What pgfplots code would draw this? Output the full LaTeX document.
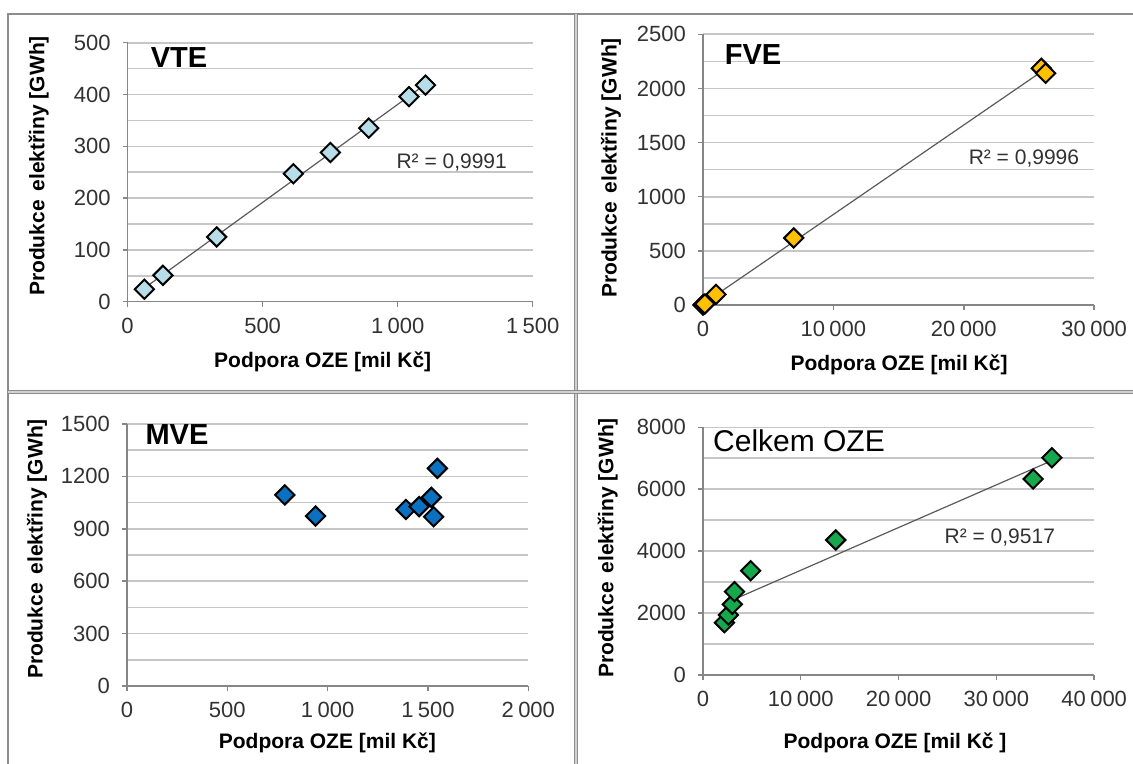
\documentclass[border=0pt]{standalone}
\usepackage{pgfplots}
\pgfplotsset{compat=1.18}
\usepackage{fontspec}
\setmainfont{Liberation Sans}
\definecolor{vte}{RGB}{183,222,232}
\definecolor{fve}{RGB}{255,192,0}
\definecolor{mve}{RGB}{10,112,192}
\definecolor{celk}{RGB}{22,168,76}
\definecolor{gridc}{RGB}{198,198,198}
\definecolor{axc}{RGB}{134,134,134}
\definecolor{framec}{RGB}{140,140,140}
\definecolor{trend}{RGB}{90,90,90}
\definecolor{txt}{RGB}{50,50,50}
\pgfplotsset{
  panel/.style={
    scale only axis, anchor=south west, axis lines=left,
    axis line style={-, draw=axc, line width=0.75pt},
    tick align=outside, major tick length=2.5pt, minor tick length=0pt,
    tick style={draw=axc, line width=0.75pt},
    ymajorgrids, yminorgrids,
    major grid style={draw=gridc, line width=0.8pt},
    minor grid style={draw=gridc, line width=0.8pt},
    xmin=0, ymin=0, clip=false, scaled ticks=false,
    tick label style={font=\fontsize{11}{13}\selectfont, text=txt},
    /pgf/number format/assume math mode=true,
    xticklabel style={/pgf/number format/1000 sep={\kern0.2em}, yshift=-2pt},
    yticklabel style={/pgf/number format/1000 sep={}, xshift=-2.5pt},
  },
  pts/.style={only marks, mark=square*, mark size=3.4pt,
    mark options={rotate=45, draw=black, line width=1pt, fill=#1}},
  trendl/.style={draw=trend, line width=0.6pt, no marks},
}
\newcommand{\lab}{\fontsize{10.5}{12}\selectfont\bfseries}
\newcommand{\ttl}{\fontsize{14.5}{16}\selectfont\bfseries}
\newcommand{\rr}{\fontsize{10.5}{12}\selectfont\color{txt}}
\begin{document}
\begin{tikzpicture}
\useasboundingbox (0pt,0pt) rectangle (566.5pt,-382pt);

% VTE
\begin{axis}[panel, at={(63.8pt,-150.85pt)}, width=202.55pt, height=129.5pt,
  xmax=1500, ymax=500, xtick={0,500,1000,1500},
  ytick={0,100,...,500}, minor ytick={50,150,...,450}]
\addplot[pts=vte] coordinates {(62,24) (131,51) (330,125) (614,247) (751,288) (893,335) (1042,396) (1103,418)};
\addplot[trendl] coordinates {(62,26.1) (1103,419.8)};
\end{axis}

% FVE
\begin{axis}[panel, at={(351.45pt,-152.5pt)}, width=195.65pt, height=135.35pt,
  xmax=30000, ymax=2500, xtick={0,10000,20000,30000},
  ytick={0,500,...,2500}, minor ytick={250,750,...,2250}]
\addplot[trendl] coordinates {(0,9.4) (26275,2181)};
\addplot[pts=fve] coordinates {(0,0) (50,3) (150,10) (1000,98) (6963,619) (25945,2186) (26275,2140)};
\end{axis}

% MVE
\begin{axis}[panel, at={(63.45pt,-343pt)}, width=200.7pt, height=131pt,
  xmax=2000, ymax=1500, xtick={0,500,1000,1500,2000},
  ytick={0,300,...,1500}, minor ytick={150,450,...,1350}]
\addplot[pts=mve] coordinates {(787,1094) (940,973) (1390,1011) (1456,1027) (1517,1080) (1528,969) (1547,1246)};
\end{axis}

% Celkem OZE
\begin{axis}[panel, at={(351.45pt,-337.5pt)}, width=195.65pt, height=123.85pt,
  xmax=40000, ymax=8000, xtick={0,10000,20000,30000,40000},
  ytick={0,2000,...,8000}, minor ytick={1000,3000,5000,7000}]
\addplot[trendl] coordinates {(2202,2307) (35670,6924)};
\addplot[pts=celk] coordinates {(2202,1690) (2606,1938) (3009,2282) (3229,2691) (4881,3369) (13578,4360) (33761,6330) (35670,7018)};
\end{axis}

\begin{scope}[x=0.5pt,y=-0.5pt]
% frames
\draw[framec, line width=0.8pt] (8,764) -- (8,14) -- (1133,14);
\draw[framec, line width=0.6pt, double=framec!40, double distance=0.6pt] (576,14) -- (576,764);
\draw[framec, line width=0.6pt, double=framec!40, double distance=0.6pt] (8,392) -- (1133,392);
% axis labels
\node[inner sep=0] at (322.7,361.7) {\lab Podpora OZE [mil Kč]};
\node[inner sep=0, rotate=90] at (38.8,166) {\lab Produkce\hspace{0.15em} elektřiny [GWh]};
\node[inner sep=0] at (899,365) {\lab Podpora OZE [mil Kč]};
\node[inner sep=0, rotate=90] at (611,168) {\lab Produkce\hspace{0.15em} elektřiny [GWh]};
\node[inner sep=0] at (327.4,743) {\lab Podpora OZE [mil Kč]};
\node[inner sep=0, rotate=90] at (37,549) {\lab Produkce\hspace{0.15em} elektřiny [GWh]};
\node[inner sep=0] at (895,743) {\lab Podpora OZE [mil Kč ]};
\node[inner sep=0, rotate=90] at (607.7,548) {\lab Produkce\hspace{0.15em} elektřiny [GWh]};
% titles
\node[inner sep=0] at (179,58) {\ttl VTE};
\node[inner sep=0] at (753,55) {\ttl FVE};
\node[inner sep=0] at (177,435) {\ttl MVE};
\node[inner sep=0] at (799,441) {\fontsize{15}{17}\selectfont Celkem OZE};
% R^2
\node[inner sep=0] at (451.7,163) {\rr R² = 0,9991};
\node[inner sep=0] at (1023.9,159) {\rr R² = 0,9996};
\node[inner sep=0] at (999.8,537.7) {\rr R² = 0,9517};
\end{scope}
\end{tikzpicture}
\end{document}
